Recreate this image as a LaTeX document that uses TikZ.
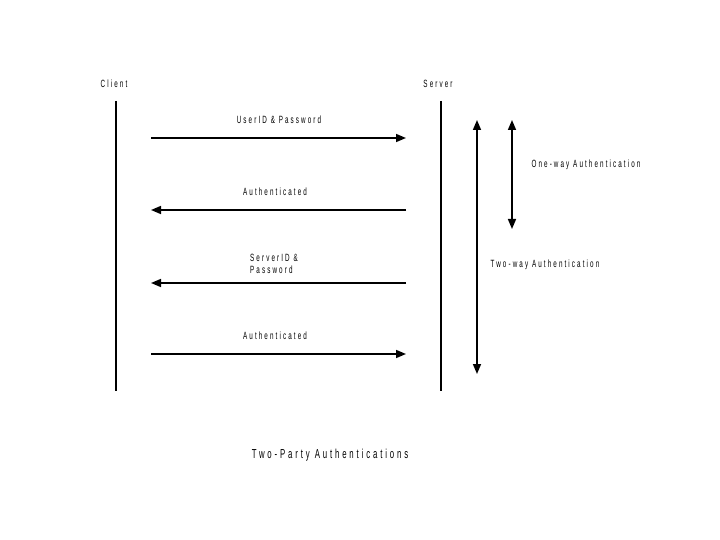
\documentclass[tikz,border=0pt]{standalone}
\usepackage{fontspec}
\usetikzlibrary{arrows.meta}
\newfontfamily\lblfont[FakeStretch=0.6,LetterSpace=20]{Liberation Sans}
\newfontfamily\ttlfont[FakeStretch=0.6,LetterSpace=22]{Liberation Sans}
\tikzset{
  lbl/.style={font=\lblfont\fontsize{10.5}{12}\selectfont, inner sep=0pt, align=center},
  ttl/.style={font=\ttlfont\fontsize{13}{15}\selectfont, inner sep=0pt},
  life/.style={line width=1.6pt},
  msg/.style={line width=1.6pt, -{Triangle[length=10pt,width=8pt]}},
  span/.style={line width=1.6pt, {Triangle[length=10pt,width=8pt]}-{Triangle[length=10pt,width=8pt]}}
}
\begin{document}
\begin{tikzpicture}[x=1pt,y=-1pt]
\useasboundingbox (0,0) rectangle (720,540);
\fill[white] (0,0) rectangle (720,540);
% participants
\node[lbl] (client) at (114,84) {Client};
\node[lbl] (server) at (438,84) {Server};
\coordinate (c1) at (116,101); \coordinate (c2) at (116,391);
\coordinate (s1) at (441,101); \coordinate (s2) at (441,391);
\draw[life] (c1) -- (c2);
\draw[life] (s1) -- (s2);
% messages
\coordinate (m1a) at (151,138); \coordinate (m1b) at (406,138);
\coordinate (m2a) at (406,210); \coordinate (m2b) at (151,210);
\coordinate (m3a) at (406,283); \coordinate (m3b) at (151,283);
\coordinate (m4a) at (151,354); \coordinate (m4b) at (406,354);
\draw[msg] (m1a) -- (m1b);
\draw[msg] (m2a) -- (m2b);
\draw[msg] (m3a) -- (m3b);
\draw[msg] (m4a) -- (m4b);
\node[lbl] (l1) at (279,120) {UserID \& Password};
\node[lbl] (l2) at (275,192) {Authenticated};
\node[lbl, align=left] (l3) at (274,264) {ServerID \&\\Password};
\node[lbl] (l4) at (275,336) {Authenticated};
% spans
\coordinate (t1) at (477,120); \coordinate (t2) at (477,374);
\coordinate (o1) at (512,120); \coordinate (o2) at (512,229);
\draw[span] (t1) -- (t2);
\draw[span] (o1) -- (o2);
\node[lbl] (one) at (586,165) {One-way Authentication};
\node[lbl] (two) at (545,265) {Two-way Authentication};
% title
\node[ttl] (title) at (330,455) {Two-Party Authentications};
\end{tikzpicture}
\end{document}
